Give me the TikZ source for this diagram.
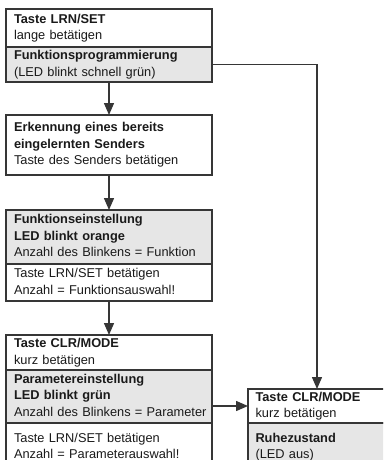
\documentclass[tikz,border=0pt]{standalone}
\usepackage{fontspec}
\setmainfont{Liberation Sans}
\usetikzlibrary{arrows.meta}
\definecolor{linec}{HTML}{363636}
\definecolor{grayfill}{HTML}{E6E6E6}
\definecolor{txt}{HTML}{1A1A1A}
\begin{document}
\begin{tikzpicture}[x=1pt,y=-1pt,
  sec/.style={draw=linec, line width=1.4pt, rectangle, anchor=north west,
    inner xsep=8pt, inner ysep=0pt, outer sep=0pt, align=left, text=txt,
    font=\fontsize{12.8}{16.5}\selectfont,
    execute at begin node=\strut, execute at end node=\strut},
  mainbox/.style={sec, minimum width=206pt, text width=190pt},
  sidebox/.style={sec, minimum width=138pt, text width=123pt, inner xsep=7pt},
  shaded/.style={fill=grayfill},
  plain/.style={fill=white},
  arr/.style={draw=linec, line width=1.4pt, -{Triangle[length=12pt,width=10pt]}}]
\useasboundingbox (0,0) rectangle (383,460);
\clip (0,0) rectangle (383,460);
\fill[white] (0,0) rectangle (383,460);
% box 1
\node[mainbox, plain, minimum height=38pt] (b1a) at (6,9)
  {\textbf{Taste LRN/SET}\\lange betätigen};
\node[mainbox, shaded, minimum height=35pt] (b1b) at (b1a.south west)
  {\textbf{Funktionsprogrammierung}\\(LED blinkt schnell grün)};
% box 2
\node[mainbox, plain, minimum height=60pt] (b2) at (6,115)
  {\textbf{Erkennung eines bereits}\\\textbf{eingelernten Senders}\\Taste des Senders betätigen};
% box 3
\node[mainbox, shaded, minimum height=54pt] (b3a) at (6,210)
  {\textbf{Funktionseinstellung}\\\textbf{LED blinkt orange}\\\mbox{Anzahl des Blinkens = Funktion}};
\node[mainbox, plain, minimum height=37pt] (b3b) at (b3a.south west)
  {Taste LRN/SET betätigen\\Anzahl = Funktionsauswahl!};
% box 4
\node[mainbox, plain, minimum height=35pt] (b4a) at (6,335)
  {\textbf{Taste CLR/MODE}\\kurz betätigen};
\node[mainbox, shaded, minimum height=53pt] (b4b) at (b4a.south west)
  {\textbf{Parametereinstellung}\\\textbf{LED blinkt grün}\\\mbox{Anzahl des Blinkens = Parameter}};
\node[mainbox, plain, minimum height=48pt] (b4c) at (b4b.south west)
  {Taste LRN/SET betätigen\\Anzahl = Parameterauswahl!};
% box 5
\node[sidebox, plain, minimum height=34pt] (b5a) at (248,389)
  {\textbf{Taste CLR/MODE}\\kurz betätigen};
\node[sidebox, shaded, minimum height=48pt] (b5b) at (b5a.south west)
  {\textbf{Ruhezustand}\\(LED aus)};
% connectors
\draw[arr] (b1b.south) -- (b2.north);
\draw[arr] (b2.south) -- (b3a.north);
\draw[arr] (b3b.south) -- (b4a.north);
\draw[arr] (b1b.east) -| (b5a.north);
\draw[arr] (b4b.east |- b5a.west) -- (b5a.west);
\end{tikzpicture}
\end{document}
